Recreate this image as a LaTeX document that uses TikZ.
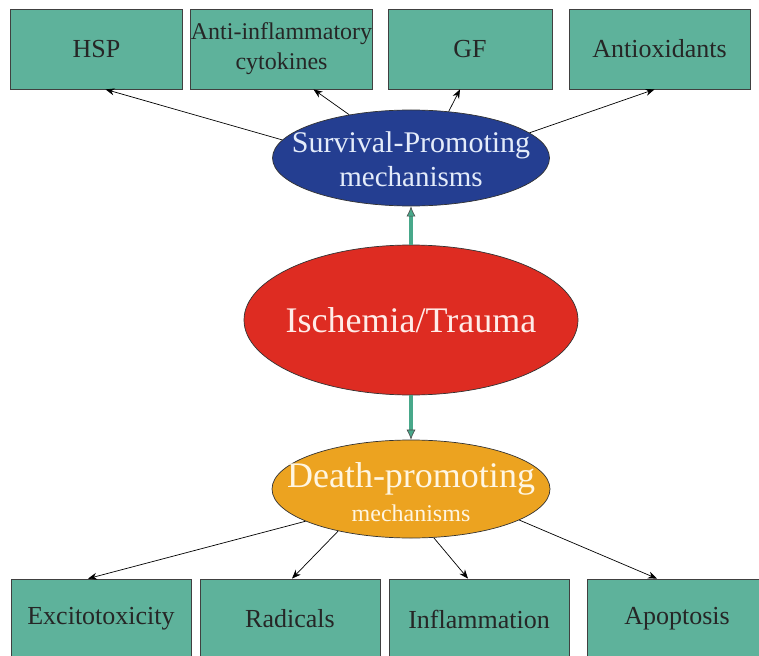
\documentclass[tikz,border=0pt]{standalone}
\usepackage{fontspec}
\setmainfont{Liberation Serif}
\usetikzlibrary{shapes.geometric,arrows.meta}
\definecolor{boxteal}{RGB}{94,178,155}
\definecolor{survblue}{RGB}{36,62,145}
\definecolor{injred}{RGB}{222,44,34}
\definecolor{deathorange}{RGB}{236,163,32}
\definecolor{linkteal}{RGB}{72,168,138}
\definecolor{survtext}{RGB}{228,236,250}
\definecolor{injtext}{RGB}{255,236,232}
\definecolor{deathtext}{RGB}{255,246,226}
\begin{document}
\begin{tikzpicture}[x=1pt,y=-1pt,
  factor/.style={draw=black!75,line width=0.8pt,fill=boxteal,text=black!85,
    minimum height=80pt,inner sep=0pt,align=center,font=\fontsize{26}{30}\selectfont},
  hub/.style={ellipse,draw=black!80,line width=0.7pt,inner sep=0pt},
  hubtext/.style={inner sep=0pt,align=center},
  effect/.style={draw=black,line width=0.7pt,-{Stealth[length=9pt,width=7pt]}},
  cascade/.style={draw=black!70,line width=0.6pt,double=linkteal,double distance=3.6pt,
    -{Latex[length=10pt,width=9pt,fill=linkteal]}}]
\useasboundingbox (0,0) rectangle (759,655);
\fill[white] (0,0) rectangle (759,655);

% protective factors
\node[factor,minimum width=172pt] (hsp)  at (96.5,49) {HSP};
\node[factor,minimum width=181pt,font=\fontsize{24}{30}\selectfont] (cyto) at (281.5,49) {Anti-inflammatory\\cytokines};
\node[factor,minimum width=164pt] (gf)   at (470,49) {GF};
\node[factor,minimum width=181pt] (aox)  at (659.5,49) {Antioxidants};

% damaging factors
\node[factor,minimum width=180pt] (exc)  at (101,619) {Excitotoxicity};
\node[factor,minimum width=180pt] (rad)  at (290,619) {Radicals};
\node[factor,minimum width=180pt] (infl) at (479,619) {Inflammation};
\node[factor,minimum width=180pt] (apo)  at (677,619) {Apoptosis};

% central ellipses (shapes sized explicitly, labels set on top)
\node[hub,fill=survblue,minimum width=277pt,minimum height=96pt] (surv) at (411,158) {};
\node[hub,fill=injred,minimum width=334pt,minimum height=150pt] (isch) at (411,320) {};
\node[hub,fill=deathorange,minimum width=278pt,minimum height=98pt] (death) at (411,489) {};

\node[hubtext,text=survtext] (survlabel) at (411,159)
  {\fontsize{30}{34}\selectfont Survival-Promoting\\[6pt]\fontsize{29}{34}\selectfont mechanisms};
\node[hubtext,text=injtext] (ischlabel) at (411,320)
  {\fontsize{36}{40}\selectfont Ischemia/Trauma};
\node[hubtext,text=deathtext] (deathlabel) at (411,492)
  {\fontsize{36}{38}\selectfont Death-promoting\\[8pt]\fontsize{24}{28}\selectfont mechanisms};

% injury drives both responses
\draw[cascade] (isch.north) -- (surv.south);
\draw[cascade] (isch.south) -- (death.north);

% survival-promoting branches
\draw[effect] (surv.172) -- ([xshift=9pt]hsp.south);
\draw[effect] (surv.145) -- ([xshift=32pt]cyto.south);
\draw[effect] (surv.51)  -- ([xshift=-10pt]gf.south);
\draw[effect] (surv.12)  -- ([xshift=-5pt]aox.south);

% death-promoting branches
\draw[effect] (death.197) -- ([xshift=-13pt]exc.north);
\draw[effect] (death.210) -- ([xshift=2pt]rad.north);
\draw[effect] (death.295) -- ([xshift=-11pt]infl.north);
\draw[effect] (death.344) -- ([xshift=-20pt]apo.north);
\end{tikzpicture}
\end{document}
